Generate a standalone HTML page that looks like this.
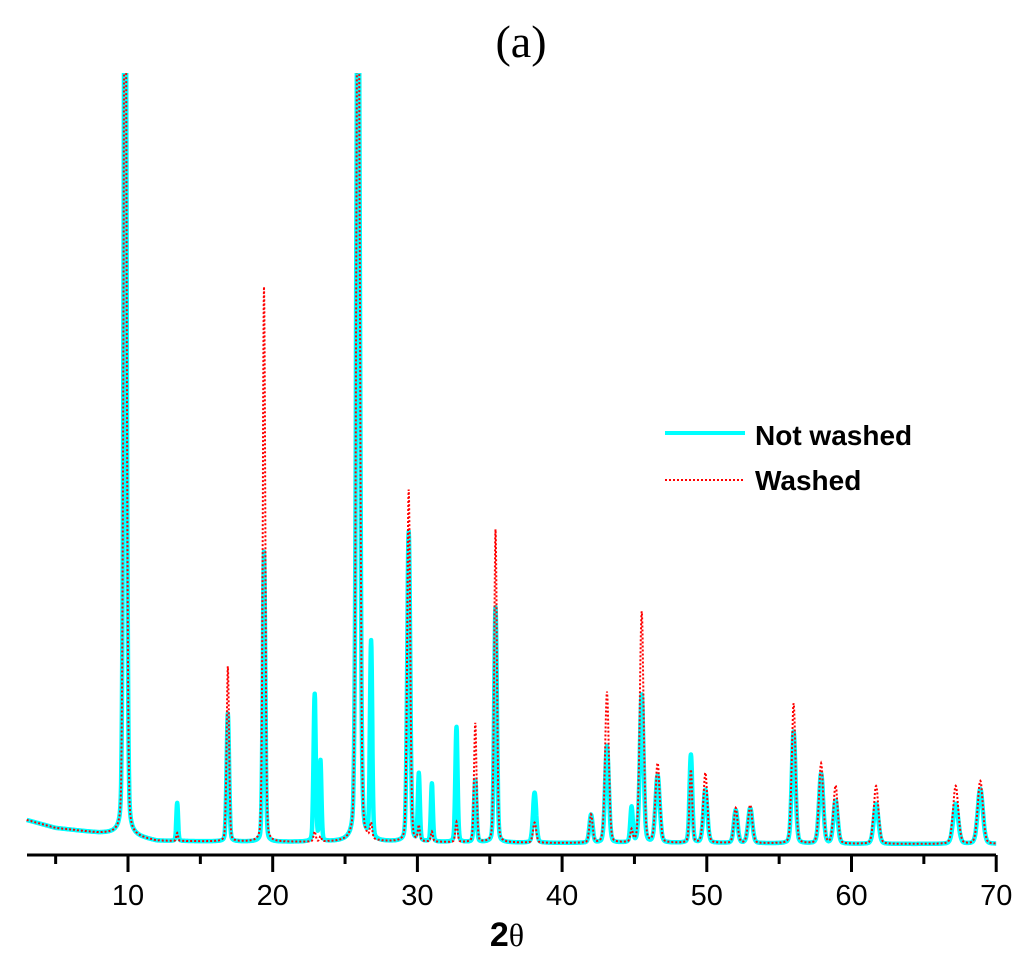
<!DOCTYPE html>
<html><head><meta charset="utf-8"><style>
body{margin:0;background:#fff}
svg{display:block}
text{font-family:"Liberation Sans",Arial,sans-serif}
</style></head><body>
<svg id="chart" width="1024" height="957" viewBox="0 0 1024 957">
<defs><clipPath id="pc"><rect x="20" y="73" width="990" height="790"/></clipPath></defs>
<text x="521" y="57" text-anchor="middle" font-size="46" style="font-family:'Liberation Serif',serif">(a)</text>
<g id="plot" clip-path="url(#pc)"></g>
<g id="axis"></g>
<text x="507" y="946" text-anchor="middle" font-size="34"><tspan font-weight="bold">2</tspan><tspan style="font-family:'Liberation Serif',serif" font-size="32">θ</tspan></text>
<g>
<line x1="665" y1="433" x2="745" y2="433" stroke="#00ffff" stroke-width="4"/>
<text x="755" y="445" font-size="28" font-weight="bold">Not washed</text>
<line x1="665" y1="480" x2="745" y2="480" stroke="#ff0000" stroke-width="2" stroke-dasharray="2,2"/>
<text x="755" y="490" font-size="28" font-weight="bold">Washed</text>
</g>
</svg>
<script>
// peak positions (2θ)
const peakPos = [9.8,13.4,16.9,19.4,22.9,23.3,25.9,26.8,29.4,30.1,31.0,32.7,34.0,35.4,38.1,42.0,43.1,44.8,45.5,46.6,48.9,49.9,52.0,53.0,56.0,57.9,58.9,61.7,67.2,68.9];
// peak heights above baseline (intensity units, 0..777 visible)
const notWashed = [1000,38,128,290,147,80,1000,197,310,67,58,115,62,235,50,28,97,35,148,67,88,53,33,35,112,70,43,40,40,55];
const washed    = [1000,8,175,555,10,5,1000,15,352,15,10,20,119,313,20,28,151,12,231,79,73,70,35,38,140,80,58,58,58,63];
const peakWidth = [0.12,0.07,0.1,0.1,0.09,0.08,0.14,0.09,0.12,0.08,0.08,0.09,0.1,0.11,0.13,0.13,0.15,0.1,0.15,0.17,0.11,0.16,0.15,0.17,0.15,0.17,0.17,0.19,0.21,0.21];
// background level (intensity units)
const bgX = [3,5,8,9.5,12,20,30,40,50,60,70];
const bgY = [30,22,17,16,9,8,8,7,7,6,6];
const xTicks = [10,20,30,40,50,60,70];
const xMinor = [5,15,25,35,45,55,65];

const X0=3,X1=70,PX0=27,PX1=996;
const xs=v=>128+(v-10)*14.47;
const ys=v=>850-v;
function bg(x){for(let i=0;i<bgX.length-1;i++){if(x<=bgX[i+1]){const t=(x-bgX[i])/(bgX[i+1]-bgX[i]);return bgY[i]+t*(bgY[i+1]-bgY[i]);}}return bgY[bgY.length-1];}
function series(h){const pts=[];for(let x=X0;x<=X1+1e-9;x+=0.02){let v=bg(x);for(let i=0;i<peakPos.length;i++){const d=(x-peakPos[i])/peakWidth[i];v+=h[i]*(0.8*Math.exp(-0.693*d*d)+0.2/(1+d*d));}pts.push(xs(x).toFixed(1)+','+ys(v).toFixed(1));}return pts.join(' ');}
const NS='http://www.w3.org/2000/svg';
const plot=document.getElementById('plot');
const p1=document.createElementNS(NS,'polyline');
p1.setAttribute('points',series(notWashed));p1.setAttribute('fill','none');p1.setAttribute('stroke','#00ffff');p1.setAttribute('stroke-width','4.5');p1.setAttribute('stroke-linejoin','round');


plot.appendChild(p1);
const p2=document.createElementNS(NS,'polyline');
p2.setAttribute('points',series(washed));p2.setAttribute('fill','none');p2.setAttribute('stroke','#ff0000');p2.setAttribute('stroke-width','2');p2.setAttribute('stroke-dasharray','2,2');


plot.appendChild(p2);
const ax=document.getElementById('axis');
const base=document.createElementNS(NS,'line');
base.setAttribute('x1',PX0);base.setAttribute('x2',PX1);base.setAttribute('y1',855);base.setAttribute('y2',855);base.setAttribute('stroke','#000');base.setAttribute('stroke-width','3');


ax.appendChild(base);
xTicks.forEach(t=>{const l=document.createElementNS(NS,'line');l.setAttribute('x1',xs(t));l.setAttribute('x2',xs(t));l.setAttribute('y1',855);l.setAttribute('y2',872);l.setAttribute('stroke','#000');l.setAttribute('stroke-width','3');


ax.appendChild(l);
const tx=document.createElementNS(NS,'text');tx.setAttribute('x',xs(t));tx.setAttribute('y',905);tx.setAttribute('text-anchor','middle');tx.setAttribute('font-size','29');tx.textContent=t;


ax.appendChild(tx);});
xMinor.forEach(t=>{const l=document.createElementNS(NS,'line');l.setAttribute('x1',xs(t));l.setAttribute('x2',xs(t));l.setAttribute('y1',855);l.setAttribute('y2',864);l.setAttribute('stroke','#000');l.setAttribute('stroke-width','3');


ax.appendChild(l);});
</script>
</body></html>
